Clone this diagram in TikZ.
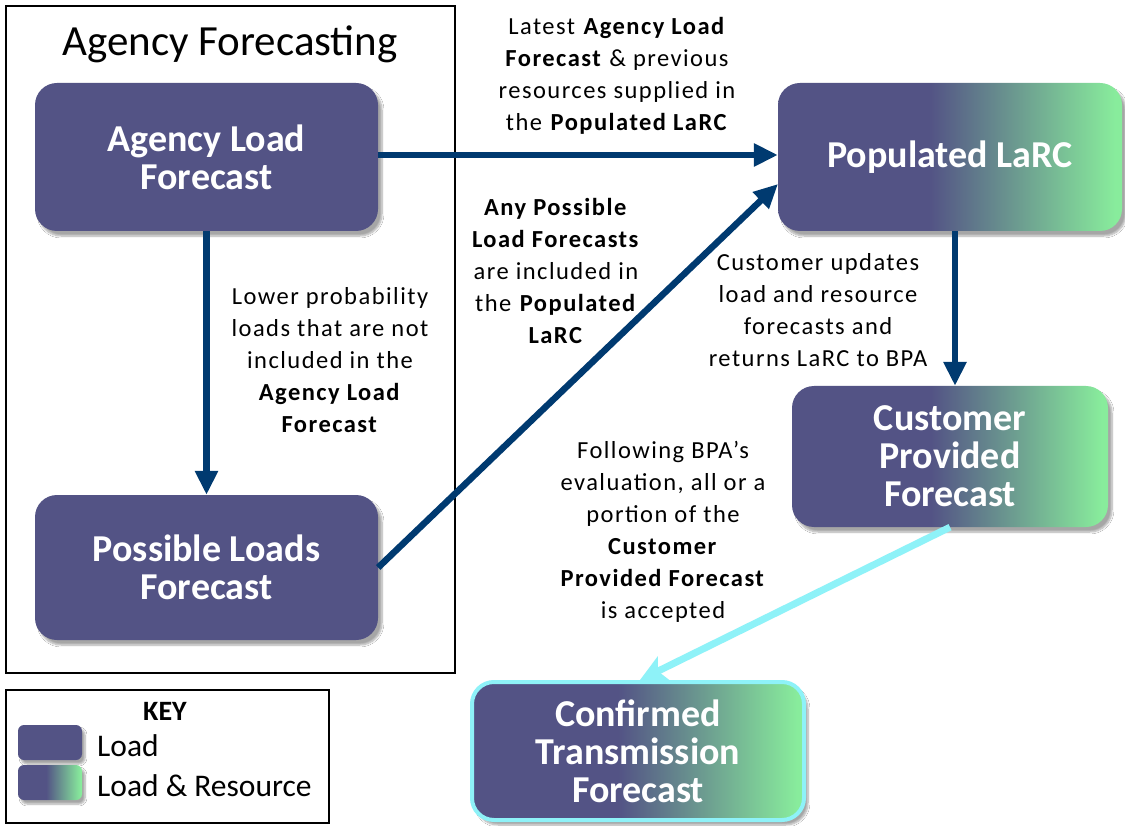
\documentclass[tikz,border=0pt]{standalone}
\usepackage{fontspec}
\setmainfont{Carlito}
\newfontfamily\lblfont[LetterSpace=6]{Carlito}
\usetikzlibrary{arrows.meta,shadows.blur}
\definecolor{lp}{RGB}{83,83,133}
\definecolor{lg}{RGB}{136,236,156}
\definecolor{arr}{RGB}{0,58,112}
\definecolor{cy}{RGB}{142,242,248}
\pgfdeclarehorizontalshading{lres}{100bp}{color(0bp)=(lp); color(47bp)=(lp); color(74bp)=(lg); color(100bp)=(lg)}
\tikzset{
  box/.style={rounded corners=22pt, text=white, align=center, inner sep=0pt,
    font=\fontsize{38}{38}\selectfont\bfseries,
    blur shadow={shadow xshift=4pt, shadow yshift=-5pt, shadow blur steps=8, shadow opacity=35}},
  loadbox/.style={box, fill=lp},
  resbox/.style={box, shading=lres},
  frame/.style={draw=black, line width=2pt},
  conn/.style={draw=arr, line width=6.5pt, -{Triangle[length=24pt,width=22pt]}},
  cyconn/.style={draw=cy, line width=7pt, -{Stealth[length=26pt,width=26pt,inset=6pt]}},
  lbl/.style={font=\lblfont\fontsize{24.5}{32}\selectfont, align=center, text=black, inner sep=0pt},
  keysw/.style={rounded corners=6pt, minimum width=64pt, minimum height=35pt, inner sep=0pt,
    blur shadow={shadow xshift=3pt, shadow yshift=-4pt, shadow blur steps=6, shadow opacity=35}},
}
\begin{document}
\begin{tikzpicture}[x=1pt,y=-1pt]
\useasboundingbox (0,0) rectangle (1125,826);
\fill[white] (0,0) rectangle (1125,826);
% frames
\node[frame, minimum width=449pt, minimum height=667pt, inner sep=0pt] (agfr) at (230.5,339.5) {};
\node[font=\fontsize{43}{45}\selectfont, inner sep=0pt] (agtitle) at (230,44) {Agency Forecasting};
\node[frame, minimum width=323pt, minimum height=133pt, inner sep=0pt] (keyfr) at (167.5,756.5) {};
% main nodes
\node[loadbox, minimum width=343pt, minimum height=148pt] (alf) at (206.5,157) {Agency Load\\Forecast};
\node[loadbox, minimum width=343pt, minimum height=145pt] (plf) at (206.5,567.5) {Possible Loads\\Forecast};
\node[resbox, minimum width=344pt, minimum height=148pt] (pl) at (950,157) {Populated LaRC};
\node[resbox, minimum width=316pt, minimum height=141pt] (cpf) at (950,456.5) {Customer\\Provided\\Forecast};
\node[resbox, draw=cy, line width=4pt, minimum width=332pt, minimum height=138pt] (ctf) at (638,751) {Confirmed\\Transmission\\Forecast};
% key
\node[font=\fontsize{28}{30}\selectfont\bfseries, inner sep=0pt] (keyt) at (165,711) {KEY};
\node[keysw, fill=lp] (k1) at (50,742.5) {};
\node[keysw, shading=lres] (k2) at (50,782.5) {};
\node[font=\fontsize{31.5}{33}\selectfont, anchor=west, inner sep=0pt] (k1t) at (97,746) {Load};
\node[font=\fontsize{31.5}{33}\selectfont, anchor=west, inner sep=0pt] (k2t) at (97,786) {Load \& Resource};
% connectors
\coordinate (plin) at (778,184);
\draw[conn] (alf.east |- 0,155) -- (pl.west |- 0,155);
\draw[conn] (alf.south) -- (plf.north);
\draw[conn] (plf.east) -- (plin);
\draw[conn] ([xshift=5pt]pl.south) -- ([xshift=5pt]cpf.north);
\draw[cyconn] (cpf.south) -- ([xshift=2pt]ctf.north);
% labels
\node[lbl] (l1) at (617,76) {Latest \textbf{Agency Load}\\\textbf{Forecast} \& previous\\resources supplied in\\the \textbf{Populated LaRC}};
\node[lbl] (l2) at (556,271) {\textbf{Any Possible}\\\textbf{Load Forecasts}\\are included in\\the \textbf{Populated}\\\textbf{LaRC}};
\node[lbl] (l3) at (330,360.5) {Lower probability\\loads that are not\\included in the\\\textbf{Agency Load}\\\textbf{Forecast}};
\node[lbl] (l4) at (818,310.5) {Customer updates\\load and resource\\forecasts and\\returns LaRC to BPA};
\node[lbl] (l5) at (663,531.5) {Following BPA’s\\evaluation, all or a\\portion of the\\\textbf{Customer}\\\textbf{Provided Forecast}\\is accepted};
\end{tikzpicture}
\end{document}
